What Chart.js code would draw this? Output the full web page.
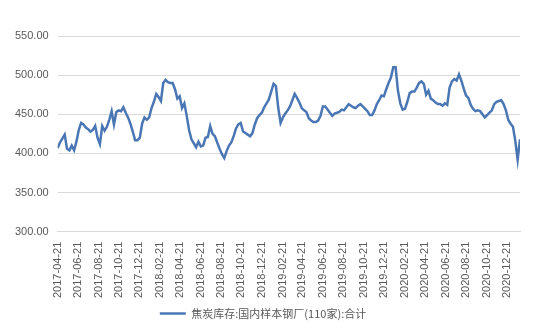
<!DOCTYPE html>
<html>
<head>
<meta charset="utf-8">
<script src="https://cdn.jsdelivr.net/npm/chart.js@4.4.1/dist/chart.umd.min.js"></script>
<style>
  html, body { margin: 0; padding: 0; background: #ffffff; }
  #wrap { width: 545px; height: 336px; }
</style>
</head>
<body>
<div id="wrap"><canvas id="myLineChart" width="545" height="336"></canvas></div>
<script>
// weekly readings starting 2017-04-21
const startDate = "2017-04-21";
const seriesName = "焦炭库存:国内样本钢厂(110家):合计";
const stockValues = [
  407, 414, 419, 424, 406, 404, 410, 404, 415, 430,
  439, 437, 433, 431, 428, 430, 435, 420, 412, 435,
  429, 434, 443, 454, 437, 453, 455, 454, 459, 452,
  446, 438, 428, 417, 417, 420, 438, 446, 443, 446,
  458, 466, 476, 472, 467, 490, 494, 491, 490, 490,
  482, 470, 473, 458, 464, 448, 430, 418, 413, 408,
  415, 409, 410, 420, 421, 435, 425, 422, 414, 406,
  399, 394, 403, 410, 414, 422, 432, 437, 439, 428,
  426, 424, 422, 426, 437, 445, 449, 452, 459, 464,
  469, 479, 489, 486, 458, 439, 446, 451, 455, 460,
  468, 476, 471, 465, 458, 455, 453, 445, 442, 440,
  440, 442, 448, 460, 460, 456, 452, 448, 451, 452,
  453, 456, 455, 459, 463, 461, 459, 458, 461, 463,
  460, 457, 454, 449, 449, 455, 463, 468, 474, 473,
  482, 490, 497, 510, 510, 480, 464, 456, 457, 466,
  477, 479, 479, 484, 490, 492, 489, 475, 480, 470,
  468, 465, 463, 463, 461, 464, 462, 484, 492, 495,
  493, 501, 493, 483, 474, 471, 462, 457, 454, 455,
  454, 450, 446, 449, 452, 455, 463, 466, 467, 468,
  463, 455, 443, 438, 434, 416, 392, 418
];
const tickLabels = [
  "2017-04-21", "2017-06-21", "2017-08-21", "2017-10-21", "2017-12-21",
  "2018-02-21", "2018-04-21", "2018-06-21", "2018-08-21", "2018-10-21",
  "2018-12-21", "2019-02-21", "2019-04-21", "2019-06-21", "2019-08-21",
  "2019-10-21", "2019-12-21", "2020-02-21", "2020-04-21", "2020-06-21",
  "2020-08-21", "2020-10-21", "2020-12-21"
];
const yTicks = [300, 350, 400, 450, 500, 550];

const DAY = 24 * 3600 * 1000;
const dayOf = (s) => Math.round((Date.parse(s + "T00:00:00Z") - Date.parse(startDate + "T00:00:00Z")) / DAY);
const tickDays = tickLabels.map(dayOf);
const points = stockValues.map((v, i) => ({ x: i * 7, y: v }));

const textColor = "#595959";
const gridColor = "#d9d9d9";

new Chart(document.getElementById("myLineChart").getContext("2d"), {
  type: "line",
  data: {
    datasets: [
      {
        label: seriesName,
        data: points,
        borderColor: "#4a77b4",
        backgroundColor: "#4a77b4",
        borderWidth: 2.5,
        pointRadius: 0,
        tension: 0,
      },
    ],
  },
  options: {
    responsive: false,
    animation: false,
    layout: { padding: { left: 6, right: 25, top: 36, bottom: 7 } },
    scales: {
      x: {
        type: "linear",
        min: 0,
        max: (stockValues.length - 1) * 7,
        afterBuildTicks: (axis) => {
          axis.ticks = tickDays.map((d) => ({ value: d }));
        },
        grid: { display: false },
        border: { color: gridColor },
        ticks: {
          autoSkip: false,
          maxRotation: 90,
          minRotation: 90,
          padding: 2,
          color: textColor,
          font: { family: "'Liberation Sans', Arial, sans-serif", size: 11 },
          callback: (value) => {
            const k = tickDays.indexOf(value);
            return k >= 0 ? tickLabels[k] : "";
          },
        },
      },
      y: {
        min: yTicks[0],
        max: yTicks[yTicks.length - 1],
        afterBuildTicks: (axis) => {
          axis.ticks = yTicks.map((v) => ({ value: v }));
        },
        grid: { color: gridColor, drawTicks: false },
        border: { display: false },
        ticks: {
          padding: 9,
          color: textColor,
          font: { family: "'Liberation Sans', Arial, sans-serif", size: 11 },
          callback: (value) => value.toFixed(2),
        },
      },
    },
    plugins: {
      legend: {
        position: "bottom",
        labels: {
          usePointStyle: true,
          pointStyle: "line",
          pointStyleWidth: 26,
          boxHeight: 10,
          padding: 8,
          color: textColor,
          font: { family: "'Noto Sans CJK SC', sans-serif", size: 11 },
        },
      },
      tooltip: { enabled: false },
    },
  },
});
</script>
</body>
</html>
